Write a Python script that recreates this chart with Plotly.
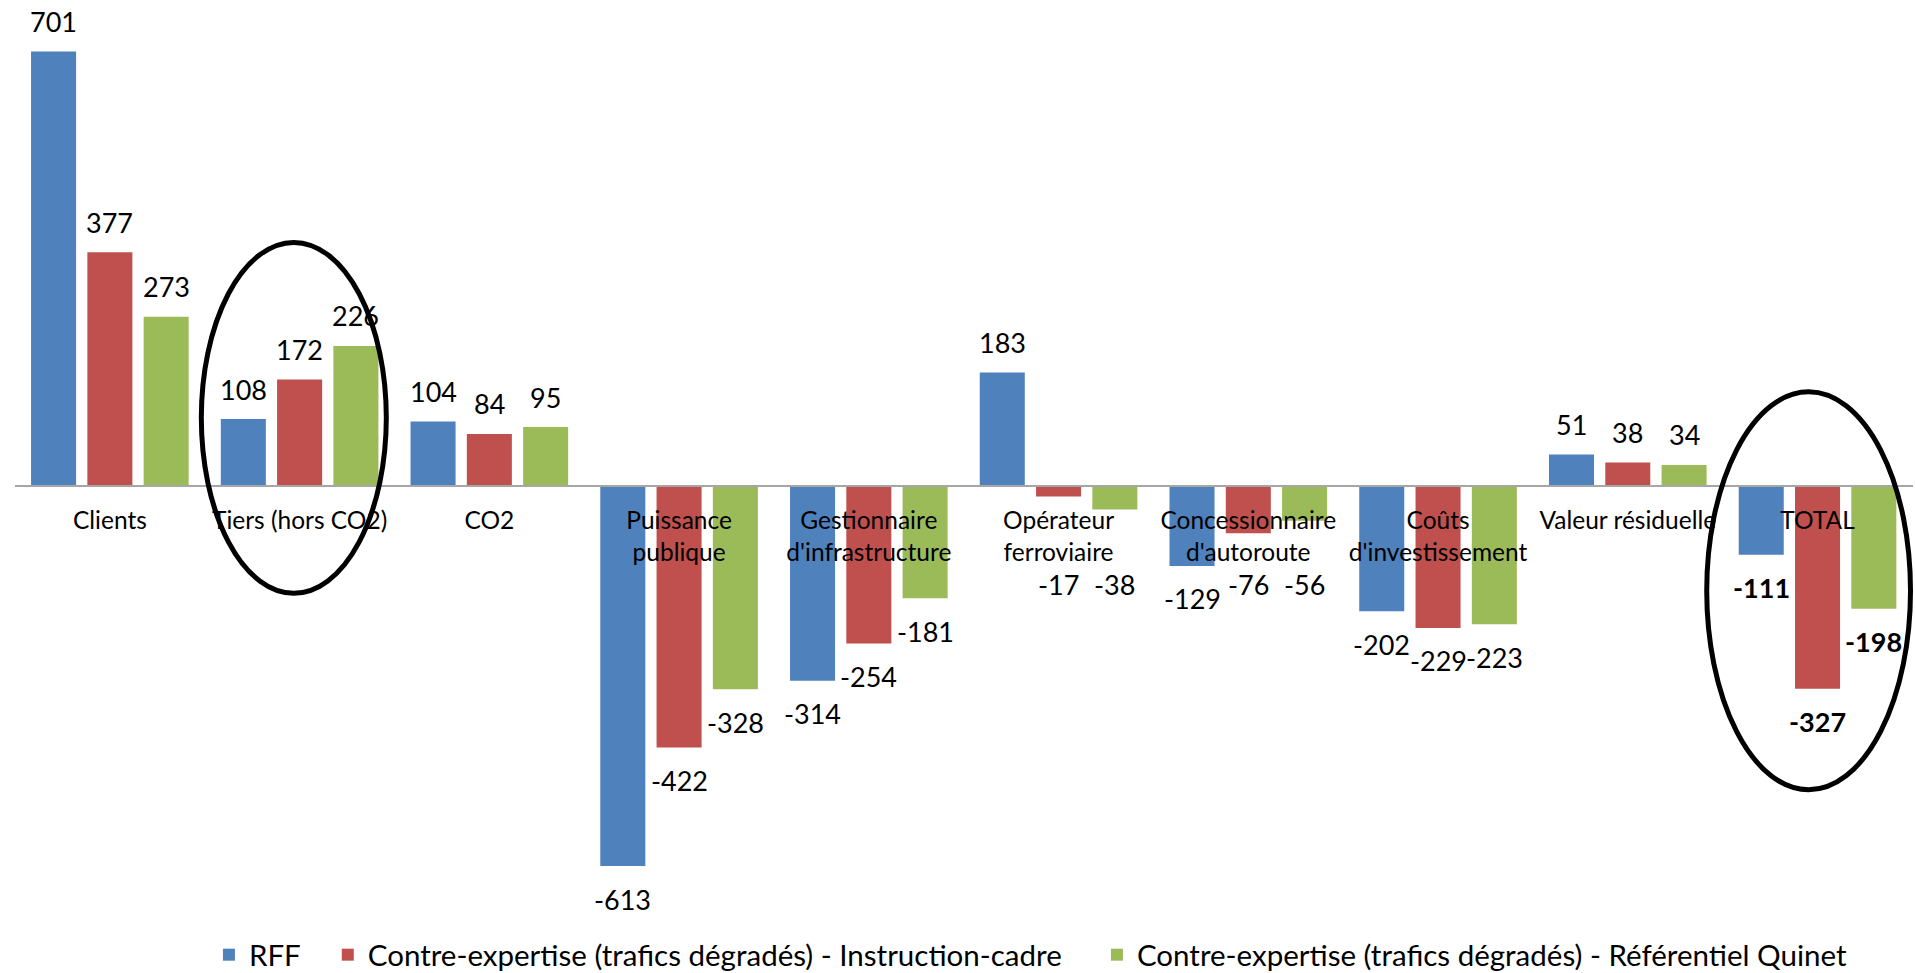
import plotly.graph_objects as go

categories = ["Clients", "Tiers (hors CO2)", "CO2", "Puissance<br>publique",
              "Gestionnaire<br>d'infrastructure", "Opérateur<br>ferroviaire",
              "Concessionnaire<br>d'autoroute", "Coûts<br>d'investissement",
              "Valeur résiduelle", "TOTAL"]
series_names = ["RFF",
                "Contre-expertise (trafics dégradés) - Instruction-cadre",
                "Contre-expertise (trafics dégradés) - Référentiel Quinet"]
rff = [701, 108, 104, -613, -314, 183, -129, -202, 51, -111]
instr = [377, 172, 84, -422, -254, -17, -76, -229, 38, -327]
quinet = [273, 226, 95, -328, -181, -38, -56, -223, 34, -198]
colors = ["#4F81BD", "#C0504D", "#9BBB59"]
legend_pad = [3, 4, 0]

FONT = "Lato"
W, H = 1915, 973
ML, MR, MT, MB = 15, 2, 10, 0
BARGAP, BARGROUPGAP = 0.11, 0.2
ymin, ymax = -785.6, 767.9
LABEL_CLEARANCE = 106   # negative labels kept below the category names
POS_SHIFT, NEG_SHIFT = 30, 33

plot_w = W - ML - MR
plot_h = H - MT - MB
cat_w = plot_w / len(categories)
slot = (1 - BARGAP) * cat_w / 3
offsets = [-slot, 0, slot]

fig = go.Figure()
for name, vals, col, p in zip(series_names, [rff, instr, quinet], colors, legend_pad):
    fig.add_trace(go.Bar(
        x=categories, y=vals, name=name + "\u00a0" * p,
        marker=dict(color=col, line=dict(width=0)),
    ))

annotations = []
for vals, off in zip([rff, instr, quinet], offsets):
    for c, v in zip(categories, vals):
        s = f"<b>{v}</b>" if c == "TOTAL" else str(v)
        if v >= 0:
            yv, ys = v, POS_SHIFT
        else:
            yv, ys = min(v, -LABEL_CLEARANCE), -NEG_SHIFT
        annotations.append(dict(x=c, y=yv, xref="x", yref="y", text=s, showarrow=False,
                                xshift=off, yshift=ys, xanchor="center", yanchor="middle",
                                font=dict(family=FONT, size=27, color="#000000")))

zero_pos = (0 - ymin) / (ymax - ymin)
legend_y = (H - 955) / plot_h

fig.update_layout(
    width=W, height=H,
    margin=dict(l=ML, r=MR, t=MT, b=MB, autoexpand=False),
    paper_bgcolor="white", plot_bgcolor="white",
    barmode="group", bargap=BARGAP, bargroupgap=BARGROUPGAP,
    font=dict(family=FONT, size=24, color="#000000"),
    showlegend=True,
    legend=dict(orientation="h", x=0.535, xanchor="center", y=legend_y, yanchor="middle",
                font=dict(family=FONT, size=29.5, color="#000000"),
                traceorder="normal", itemwidth=30, bgcolor="rgba(0,0,0,0)"),
    xaxis=dict(type="category", anchor="free", position=zero_pos,
               showline=True, linecolor="#A6A6A6", linewidth=2,
               showgrid=False, ticks="", ticklabelstandoff=13,
               tickfont=dict(family=FONT, size=24.5, color="#000000"),
               layer="above traces"),
    yaxis=dict(range=[ymin, ymax], visible=False, showgrid=False, zeroline=False),
    annotations=annotations,
)

# Ellipses highlighting groups (data coordinates)
fig.add_shape(type="circle", xref="x", yref="y", x0=0.482, x1=1.457, y0=-173, y1=393,
              line=dict(color="black", width=5), layer="above")
fig.add_shape(type="circle", xref="x", yref="y", x0=8.416, x1=9.49, y0=-490, y1=152,
              line=dict(color="black", width=5), layer="above")

fig.write_html("out.html")
